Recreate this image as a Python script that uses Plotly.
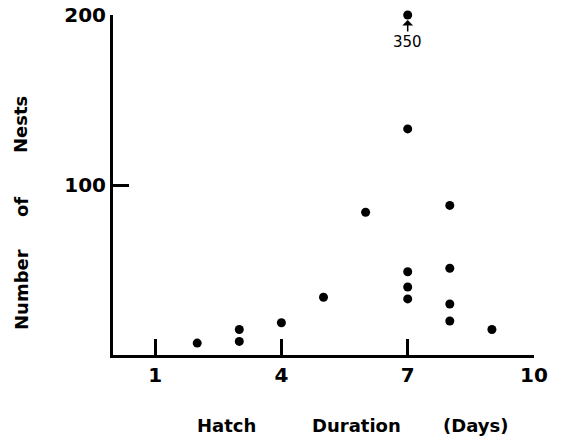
import numpy as np
import plotly.graph_objects as go

# Hatch duration (days) and number of nests
hatch_days = [2, 3, 3, 4, 5, 6, 7, 7, 7, 7, 7, 8, 8, 8, 8, 9]
nest_counts = [7, 15, 8, 19, 34, 84, 350, 133, 49, 40, 33, 88, 51, 30, 20, 15]

x_ticks = [1, 4, 7, 10]
y_ticks = [100, 200]
y_max = 200

W, H = 561, 440
L, R, T, B = 113, 27, 15, 85

counts = np.array(nest_counts, dtype=float)
plotted = np.minimum(counts, y_max)  # off-scale values sit on the axis cap

fig = go.Figure()
fig.add_trace(go.Scatter(
    x=hatch_days, y=plotted, mode="markers",
    marker=dict(color="black", size=9),
    cliponaxis=False, showlegend=False, hoverinfo="skip",
))

# label the off-scale point with its true value
for xd, c in zip(hatch_days, counts):
    if c > y_max:
        fig.add_annotation(
            x=xd, y=y_max, text=f"{int(c)}", showarrow=True,
            arrowhead=1, arrowsize=1.2, arrowwidth=1.5, arrowcolor="black",
            ax=0, ay=27, standoff=5,
            font=dict(family="DejaVu Sans", size=15, color="black"),
        )

axis_common = dict(
    showline=True, linecolor="black", linewidth=3,
    ticks="inside", ticklen=16, tickwidth=3, tickcolor="black",
    showgrid=False, zeroline=False, automargin=False,
    tickfont=dict(family="DejaVu Sans", size=20, color="black", weight="bold"),
)

fig.update_layout(
    width=W, height=H,
    margin=dict(l=L, r=R, t=T, b=B, pad=0),
    paper_bgcolor="white", plot_bgcolor="white",
    xaxis=dict(range=[0, 10], tickvals=x_ticks, ticktext=[str(v) for v in x_ticks],
               **axis_common),
    yaxis=dict(range=[0, y_max], tickvals=y_ticks, ticktext=[str(v) for v in y_ticks],
               **axis_common),
)

pw, ph = W - L - R, H - T - B


def px(xp):
    return (xp - L) / pw


def py(yp):
    return (H - B - yp) / ph


title_font = dict(family="DejaVu Sans", size=18, color="black", weight="bold")

for word, cx in [("Hatch", 226), ("Duration", 356), ("(Days)", 475)]:
    fig.add_annotation(xref="paper", yref="paper", x=px(cx), y=py(425),
                       text=word, showarrow=False, font=title_font,
                       xanchor="center", yanchor="middle")

for word, cy in [("Nests", 125), ("of", 207), ("Number", 290)]:
    fig.add_annotation(xref="paper", yref="paper", x=px(21), y=py(cy),
                       text=word, showarrow=False, font=title_font,
                       textangle=-90, xanchor="center", yanchor="middle")

fig.write_html("out.html")
